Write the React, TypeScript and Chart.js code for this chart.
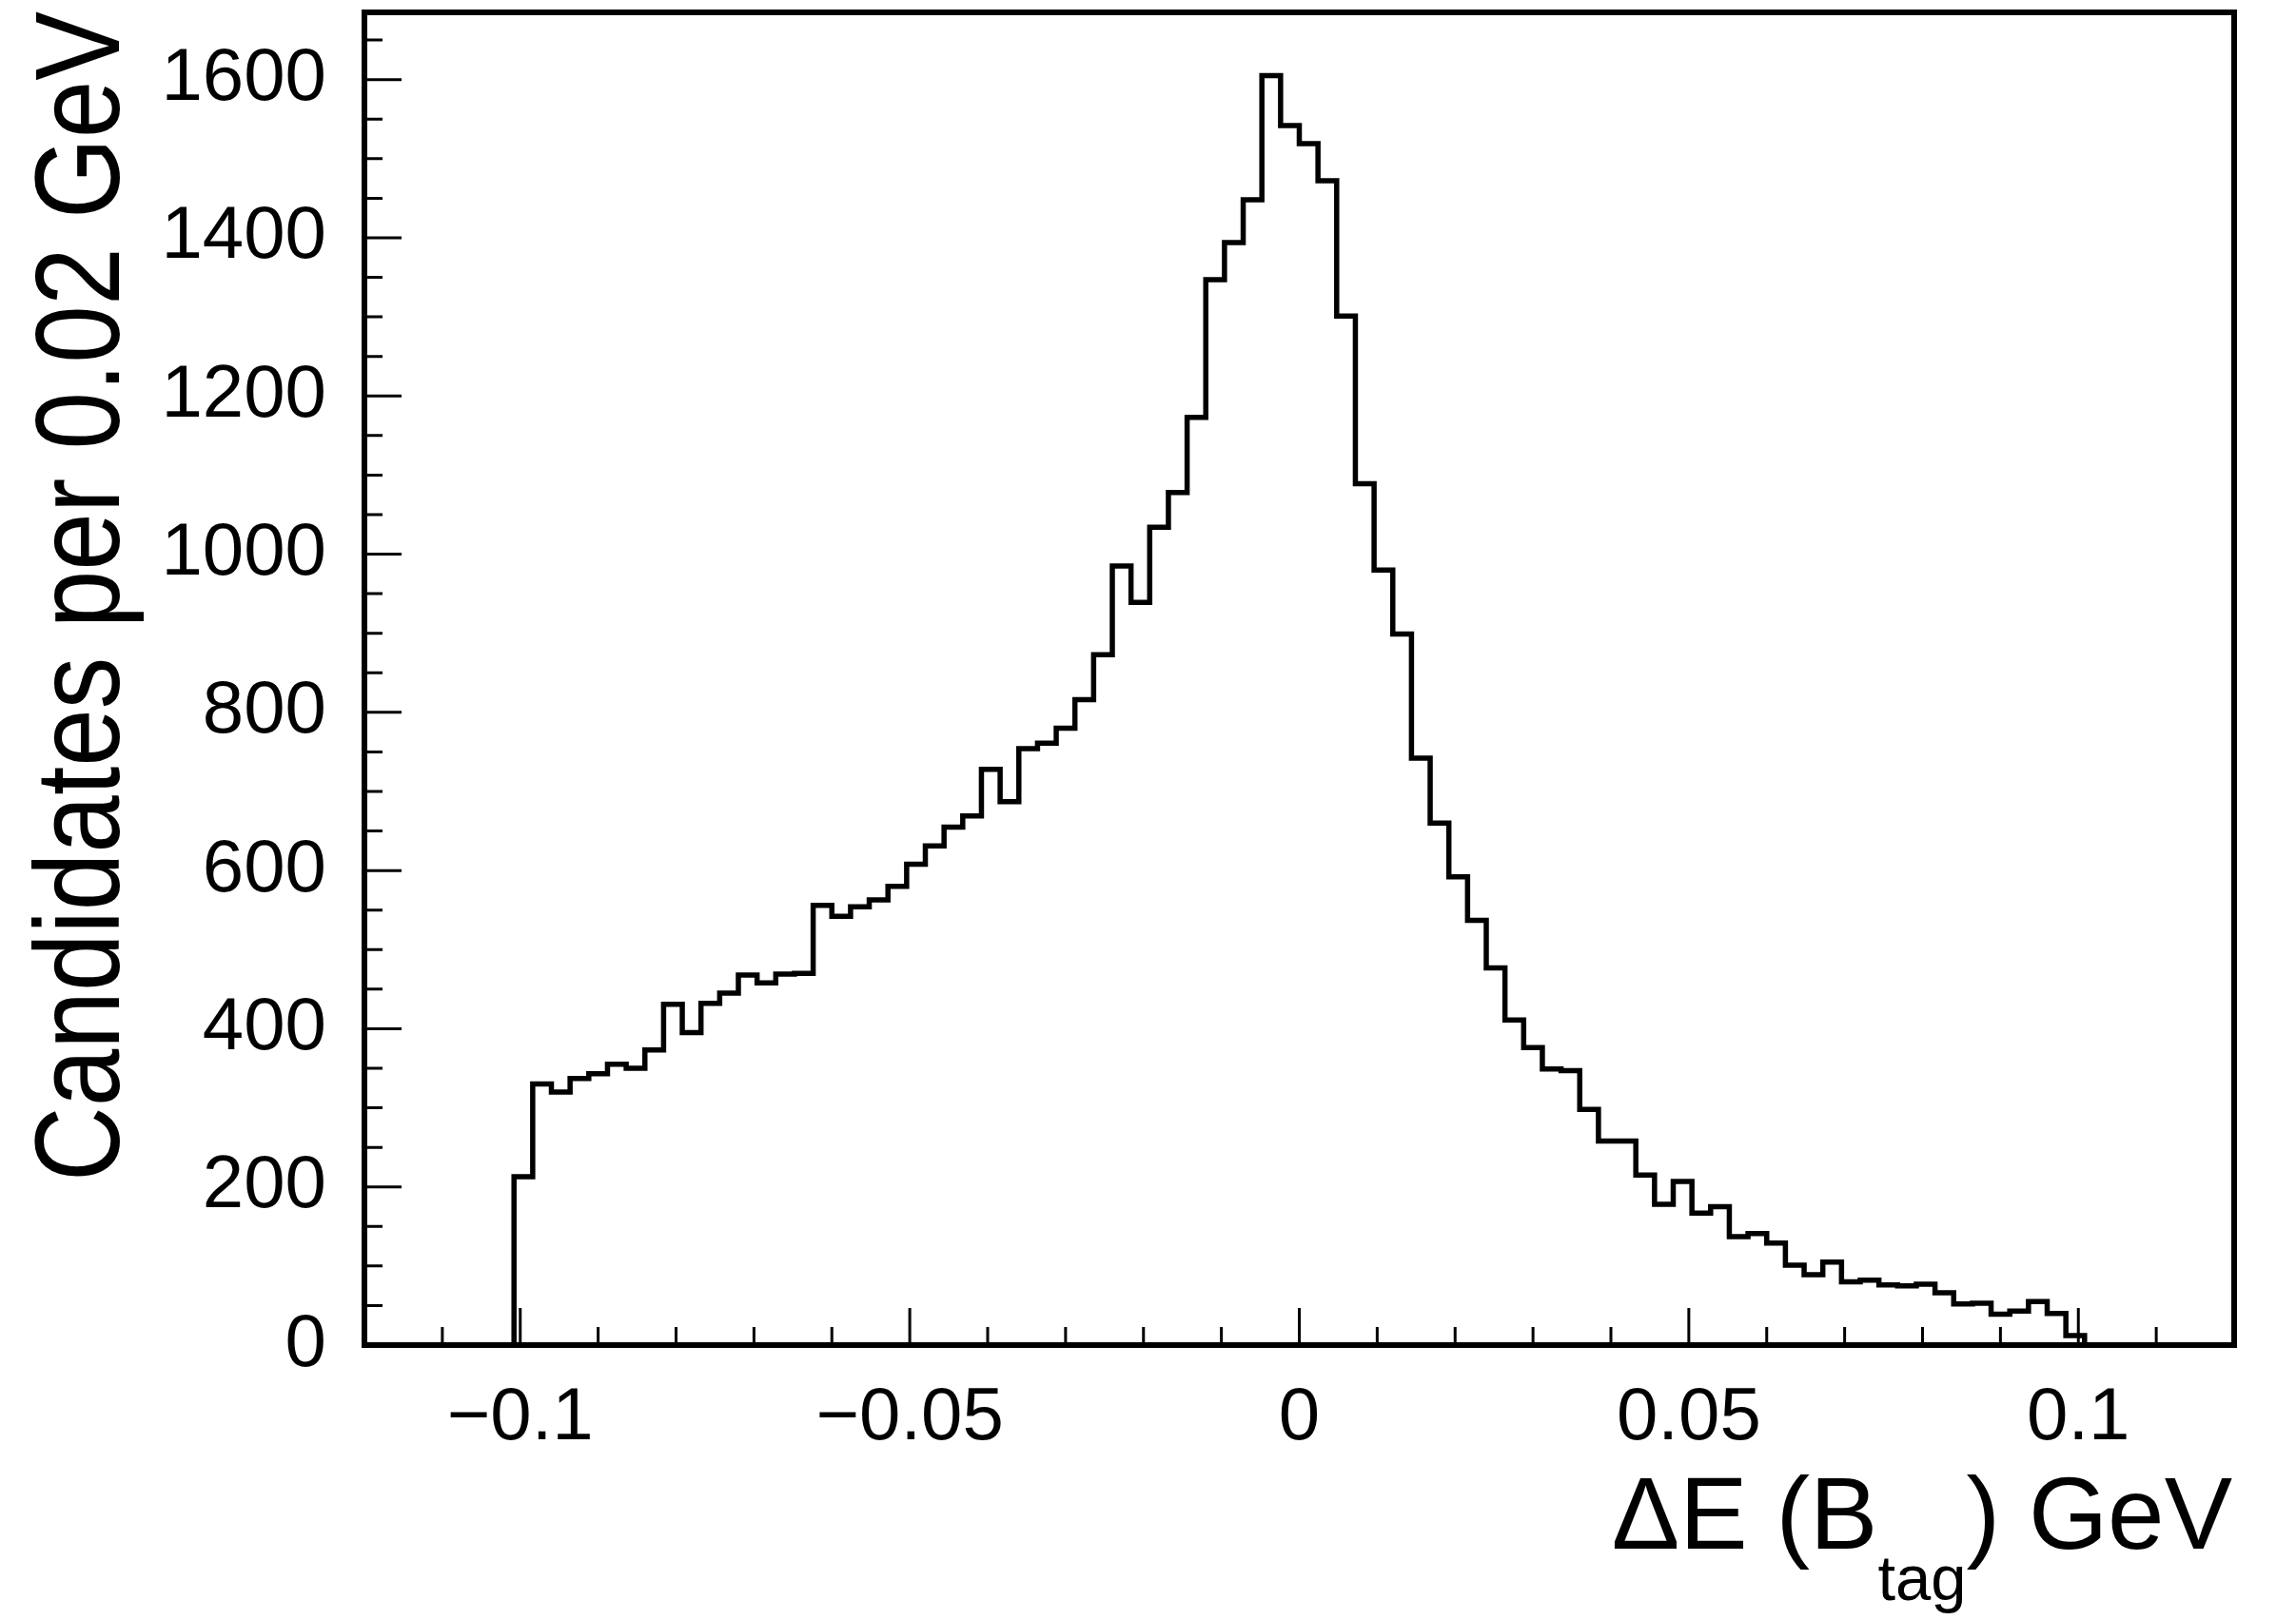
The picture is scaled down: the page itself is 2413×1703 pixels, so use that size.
import { useEffect, useRef } from "react";
import { Chart, registerables } from "chart.js";

Chart.register(...registerables);

// ---- data ----
const X_MIN = -0.12;
const X_MAX = 0.12;
const BIN_WIDTH = 0.0024;
const Y_MAX = 1685;

const binCounts = [
  0, 0, 0, 0, 0, 0, 0, 0,
  213, 330, 320, 337, 343, 355, 350, 373,
  431, 395, 432, 445, 468, 458, 469, 470,
  556, 542, 554, 563, 580, 608, 631, 655,
  669, 728, 687, 754, 761, 780, 816, 873,
  985, 939, 1034, 1078, 1173, 1347, 1394, 1448,
  1605, 1542, 1519, 1472, 1301, 1089, 980, 899,
  742, 660, 592, 537, 477, 411, 376, 349,
  347, 298, 258, 258, 215, 178, 207, 167,
  175, 137, 141, 129, 101, 89, 105, 80,
  82, 76, 75, 77, 66, 52, 53, 39,
  43, 55, 40, 12, 0, 0, 0, 0,
  0, 0, 0, 0,
];

const xTickValues = [-0.1, -0.05, 0, 0.05, 0.1];
const xTickLabels = ["\u22120.1", "\u22120.05", "0", "0.05", "0.1"];
const yTickValues = [0, 200, 400, 600, 800, 1000, 1200, 1400, 1600];
const yTickLabels = ["0", "200", "400", "600", "800", "1000", "1200", "1400", "1600"];
const X_MINOR_STEP = 0.01;
const X_MAJOR_STEP = 0.05;
const Y_MINOR_STEP = 50;
const Y_MAJOR_STEP = 200;

const yTitle = "Candidates per 0.02 GeV";
const xTitlePre = "\u0394E (B";
const xTitleSub = "tag";
const xTitlePost = ") GeV";

const FONT = '"Liberation Sans", Arial, Helvetica, sans-serif';

const framePlugin = {
  id: "rootFrame",
  afterDraw(chart: any) {
    const { ctx, chartArea: a, scales } = chart;
    const xs = scales.x;
    const ys = scales.y;
    ctx.save();
    ctx.strokeStyle = "#000";
    ctx.lineWidth = 3;
    ctx.lineCap = "butt";
    ctx.beginPath();
    // x ticks
    const iMin = Math.ceil(X_MIN / X_MINOR_STEP - 1e-6);
    const iMax = Math.floor(X_MAX / X_MINOR_STEP + 1e-6);
    for (let i = iMin; i <= iMax; i++) {
      const v = i * X_MINOR_STEP;
      if (v <= X_MIN + 1e-9 || v >= X_MAX - 1e-9) continue;
      const r = v / X_MAJOR_STEP;
      const major = Math.abs(r - Math.round(r)) < 1e-6;
      const px = xs.getPixelForValue(v);
      const len = major ? 39 : 19;
      ctx.moveTo(px, a.bottom);
      ctx.lineTo(px, a.bottom - len);
    }
    // y ticks
    const jMax = Math.floor(Y_MAX / Y_MINOR_STEP);
    for (let j = 1; j <= jMax; j++) {
      const v = j * Y_MINOR_STEP;
      const major = v % Y_MAJOR_STEP === 0;
      const py = ys.getPixelForValue(v);
      const len = major ? 39 : 19;
      ctx.moveTo(a.left, py);
      ctx.lineTo(a.left + len, py);
    }
    ctx.stroke();

    // frame
    ctx.lineWidth = 6;
    ctx.strokeRect(a.left, a.top, a.right - a.left, a.bottom - a.top);

    // x title with subscript
    ctx.fillStyle = "#000";
    ctx.textBaseline = "alphabetic";
    ctx.textAlign = "left";
    const mainFont = `107px ${FONT}`;
    const subFont = `67px ${FONT}`;
    ctx.font = mainFont;
    const w1 = ctx.measureText(xTitlePre).width;
    const w3 = ctx.measureText(xTitlePost).width;
    ctx.font = subFont;
    const w2 = ctx.measureText(xTitleSub).width;
    const base = a.bottom + 214;
    let x = a.right - 2 - (w1 + w2 + w3);
    ctx.font = mainFont;
    ctx.fillText(xTitlePre, x, base);
    x += w1;
    ctx.font = subFont;
    ctx.fillText(xTitleSub, x, base + 54);
    x += w2;
    ctx.font = mainFont;
    ctx.fillText(xTitlePost, x, base);

    // y title (rotated, aligned to top of axis)
    ctx.save();
    ctx.translate(125, a.top - 1);
    ctx.rotate(-Math.PI / 2);
    ctx.scale(1, 1.16);
    ctx.font = `109px ${FONT}`;
    ctx.textAlign = "right";
    ctx.textBaseline = "alphabetic";
    ctx.fillText(yTitle, 0, 0);
    ctx.restore();

    ctx.restore();
  },
};

export default function App() {
  const ref = useRef<HTMLCanvasElement>(null);

  useEffect(() => {
    document.body.style.margin = "0";
    document.body.style.overflow = "hidden";
    const points = binCounts.map((c, i) => ({ x: X_MIN + i * BIN_WIDTH, y: c }));
    points.push({ x: X_MAX, y: binCounts[binCounts.length - 1] });

    const chart = new Chart(ref.current as HTMLCanvasElement, {
      type: "line",
      data: {
        datasets: [
          {
            data: points,
            stepped: "before",
            borderColor: "#000",
            borderWidth: 5.5,
            pointRadius: 0,
            fill: false,
            tension: 0,
          },
        ],
      },
      options: {
        responsive: false,
        animation: false,
        devicePixelRatio: 1,
        layout: { padding: { left: 0, top: 13, right: 65, bottom: 0 } },
        plugins: {
          legend: { display: false },
          tooltip: { enabled: false },
          title: { display: false },
        },
        scales: {
          x: {
            type: "linear",
            position: "bottom",
            min: X_MIN,
            max: X_MAX,
            grid: { display: false, drawTicks: false },
            border: { display: false },
            ticks: {
              autoSkip: false,
              maxRotation: 0,
              minRotation: 0,
              padding: 31,
              color: "#000",
              font: { family: FONT, size: 78 },
              callback: (_v: any, i: number) => xTickLabels[i],
            },
            afterBuildTicks: (s: any) => {
              s.ticks = xTickValues.map((v) => ({ value: v }));
            },
            afterFit: (s: any) => {
              s.height = 289;
              s.paddingLeft = 0;
              s.paddingRight = 0;
            },
          },
          y: {
            type: "linear",
            position: "left",
            min: 0,
            max: Y_MAX,
            grid: { display: false, drawTicks: false },
            border: { display: false },
            ticks: {
              autoSkip: false,
              padding: 40,
              color: "#000",
              font: { family: FONT, size: 78 },
              callback: (_v: any, i: number) => yTickLabels[i],
            },
            afterBuildTicks: (s: any) => {
              s.ticks = yTickValues.map((v) => ({ value: v }));
            },
            afterFit: (s: any) => {
              s.width = 383;
              s.paddingTop = 0;
              s.paddingBottom = 0;
            },
          },
        },
      },
      plugins: [framePlugin],
    } as any);

    return () => chart.destroy();
  }, []);

  return (
    <div
      style={{
        position: "fixed",
        left: 0,
        top: 0,
        width: 2413,
        height: 1703,
        background: "#fff",
      }}
    >
      <canvas
        ref={ref}
        width={2413}
        height={1703}
        style={{ display: "block", width: 2413, height: 1703 }}
      />
    </div>
  );
}
